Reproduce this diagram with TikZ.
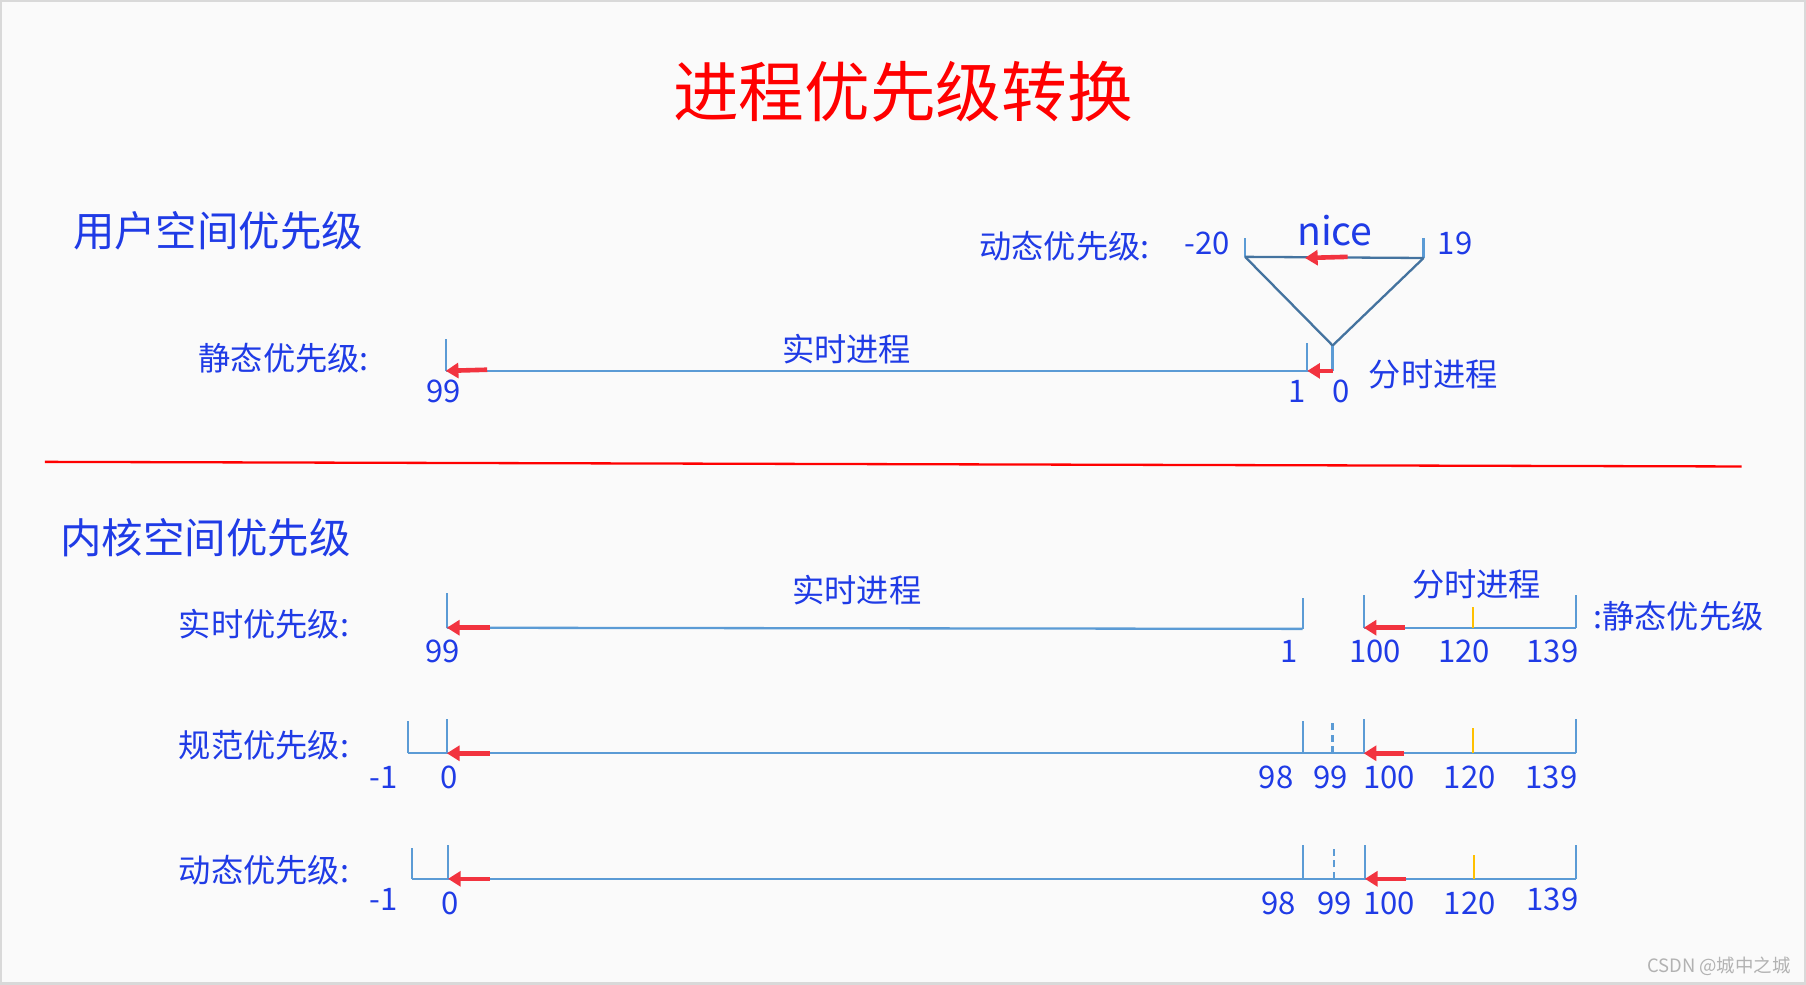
\documentclass[tikz,border=0pt]{standalone}
\usepackage{fontspec}
\setmainfont{Noto Sans CJK SC}
\usetikzlibrary{arrows.meta}

\definecolor{bgcol}{HTML}{FAFAFA}
\definecolor{textblue}{HTML}{1F3BE6}
\definecolor{lineblue}{HTML}{5B9BD5}
\definecolor{darkline}{HTML}{44739F}
\definecolor{arrowred}{HTML}{F2333F}
\definecolor{tickorange}{HTML}{FFC000}

\tikzset{
	title/.style={text=red, inner sep=0pt, font=\fontsize{28.5}{32}\selectfont},
	heading/.style={text=textblue, inner sep=0pt, font=\fontsize{18}{21}\selectfont},
	lbl/.style={text=textblue, inner sep=0pt, font=\fontsize{14}{16}\selectfont},
	num/.style={text=textblue, inner sep=0pt, font=\fontsize{13.5}{15}\selectfont},
	nicetext/.style={text=textblue, inner sep=0pt, font=\fontsize{17}{19}\selectfont},
	rangeline/.style={draw=lineblue, line width=1pt},
	darkrange/.style={draw=darkline, line width=1pt, line join=round},
	endbar/.style={draw=lineblue, line width=1pt},
	dashbar/.style={draw=lineblue, line width=1pt, dash pattern=on 3pt off 2pt},
	orangebar/.style={draw=tickorange, line width=1pt},
	moveleft/.style={draw=arrowred, line width=2pt, -{Triangle[length=5.5pt,width=6.5pt]}}
}

\begin{document}
\begin{tikzpicture}[x=0.5pt,y=-0.5pt]
	\useasboundingbox (0,0) rectangle (1568,855);
	\fill[bgcol] (0,0) rectangle (1568,855);
	\draw[gray!30, line width=1pt] (1,1) rectangle (1567,854);

	\node[title] (title) at (784,80) {进程优先级转换};

	% user space
	\node[heading, anchor=west] (user) at (63,200) {用户空间优先级};
	\node[lbl, anchor=west] (udyn) at (850,214) {动态优先级:};
	\node[num, anchor=east] (nlow) at (1068,211) {-20};
	\node[nicetext] (nice) at (1159,200) {nice};
	\node[num, anchor=west] (nhigh) at (1248,211) {19};
	\coordinate (nl) at (1081,223);
	\coordinate (nr) at (1236,224);
	\coordinate (nltop) at (1081,207);
	\coordinate (nrtop) at (1236,207);
	\coordinate (apex) at (1157,300);
	\draw[endbar] (nl) -- (nltop);
	\draw[endbar] (nr) -- (nrtop);
	\draw[darkrange] (nl) -- (nr);
	\draw[darkrange] (nl) -- (apex) -- (nr);
	\coordinate (nicefrom) at (1170,223);
	\coordinate (niceto) at (1133,224);
	\draw[moveleft] (nicefrom) -- (niceto);

	\node[lbl, anchor=west] (ustat) at (172,311) {静态优先级:};
	\coordinate (s99) at (387,322);
	\coordinate (s99top) at (387,294);
	\coordinate (s1) at (1135,322);
	\coordinate (s1top) at (1135,298);
	\coordinate (s0) at (1157,322);
	\draw[rangeline] (s99) -- (s0);
	\draw[endbar] (s99) -- (s99top);
	\draw[endbar] (s1) -- (s1top);
	\draw[endbar] (s0) -- (apex);
	\coordinate (sarr) at (423,321);
	\draw[moveleft] (sarr) -- (s99);
	\draw[moveleft] (s0) -- (s1);
	\node[num] (l99) at (385,340) {99};
	\node[num] (l1) at (1126,340) {1};
	\node[num] (l0) at (1164,340) {0};
	\node[lbl] (urt) at (735,303) {实时进程};
	\node[lbl, anchor=west] (uts) at (1188,325) {分时进程};

	% separator
	\coordinate (sepl) at (39,401);
	\coordinate (sepr) at (1512,405);
	\draw[red, line width=1pt] (sepl) -- (sepr);

	% kernel space
	\node[heading, anchor=west] (kernel) at (52,467) {内核空间优先级};

	% real-time priority
	\node[lbl, anchor=west] (krt) at (155,542) {实时优先级:};
	\coordinate (r99) at (388,545);
	\coordinate (r1) at (1131,546);
	\coordinate (r100) at (1184,545);
	\coordinate (r120) at (1279,545);
	\coordinate (r139) at (1368,545);
	\draw[rangeline] (r99) -- (r1);
	\draw[rangeline] (r100) -- (r139);
	\draw[endbar] (r99) -- ++(0,-30);
	\draw[endbar] (r1) -- ++(0,-27);
	\draw[endbar] (r100) -- ++(0,-28);
	\draw[endbar] (r139) -- ++(0,-28);
	\draw[orangebar] (r120) -- ++(0,-18);
	\coordinate (rarr) at (425,545);
	\coordinate (rarr2) at (1220,545);
	\draw[moveleft] (rarr) -- (r99);
	\draw[moveleft] (rarr2) -- (r100);
	\node[lbl] (krtp) at (744,512) {实时进程};
	\node[lbl] (ktsp) at (1282,507) {分时进程};
	\node[lbl, anchor=west] (kstat) at (1383,535) {:静态优先级};
	\node[num] at (384,566) {99};
	\node[num] at (1119,566) {1};
	\node[num] at (1194,566) {100};
	\node[num] at (1271,566) {120};
	\node[num] at (1348,566) {139};

	% normal priority
	\node[lbl, anchor=west] (knorm) at (155,647) {规范优先级:};
	\coordinate (m1) at (354,654);
	\coordinate (m0) at (388,654);
	\coordinate (m98) at (1131,654);
	\coordinate (m99) at (1157,654);
	\coordinate (m100) at (1184,654);
	\coordinate (m120) at (1279,654);
	\coordinate (m139) at (1368,654);
	\draw[rangeline] (m1) -- (m139);
	\draw[endbar] (m1) -- ++(0,-28);
	\draw[endbar] (m0) -- ++(0,-30);
	\draw[endbar] (m98) -- ++(0,-28);
	\draw[dashbar] (m99) -- ++(0,-28);
	\draw[endbar] (m100) -- ++(0,-30);
	\draw[endbar] (m139) -- ++(0,-30);
	\draw[orangebar] (m120) -- ++(0,-22);
	\coordinate (marr) at (425,654);
	\coordinate (marr2) at (1219,654);
	\draw[moveleft] (marr) -- (m0);
	\draw[moveleft] (marr2) -- (m100);
	\node[num] at (333,675) {-1};
	\node[num] at (390,675) {0};
	\node[num] at (1108,675) {98};
	\node[num] at (1155,675) {99};
	\node[num] at (1206,675) {100};
	\node[num] at (1276,675) {120};
	\node[num] at (1347,675) {139};

	% dynamic priority
	\node[lbl, anchor=west] (kdyn) at (155,756) {动态优先级:};
	\coordinate (d1) at (358,763);
	\coordinate (d0) at (389,763);
	\coordinate (d98) at (1131,763);
	\coordinate (d99) at (1158,763);
	\coordinate (d100) at (1185,763);
	\coordinate (d120) at (1280,763);
	\coordinate (d139) at (1368,763);
	\draw[rangeline] (d1) -- (d139);
	\draw[endbar] (d1) -- ++(0,-27);
	\draw[endbar] (d0) -- ++(0,-29);
	\draw[endbar] (d98) -- ++(0,-29);
	\draw[dashbar] (d99) -- ++(0,-29);
	\draw[endbar] (d100) -- ++(0,-29);
	\draw[endbar] (d139) -- ++(0,-29);
	\draw[orangebar] (d120) -- ++(0,-21);
	\coordinate (darr) at (425,763);
	\coordinate (darr2) at (1221,763);
	\draw[moveleft] (darr) -- (d0);
	\draw[moveleft] (darr2) -- (d100);
	\node[num] at (333,781) {-1};
	\node[num] at (391,784) {0};
	\node[num] at (1110,784) {98};
	\node[num] at (1159,784) {99};
	\node[num] at (1206,784) {100};
	\node[num] at (1276,784) {120};
	\node[num] at (1348,781) {139};

	\node[anchor=east, inner sep=0pt, text=gray!60, font=\fontsize{8}{10}\selectfont] (mark) at (1555,839) {CSDN @城中之城};
\end{tikzpicture}
\end{document}
